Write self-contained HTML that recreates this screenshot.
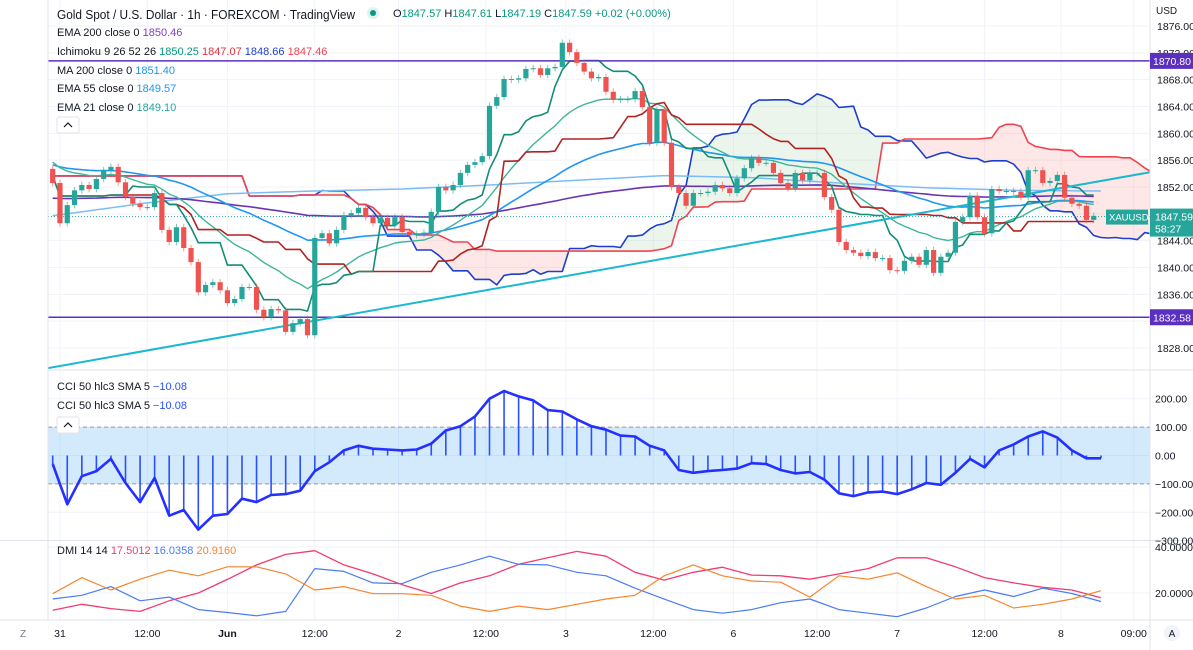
<!DOCTYPE html>
<html><head><meta charset="utf-8">
<style>
html,body{margin:0;padding:0;background:#fff;}
body{width:1193px;height:650px;overflow:hidden;position:relative;font-family:"Liberation Sans",sans-serif;}
svg{position:absolute;left:0;top:0;}
.t{font-family:"Liberation Sans",sans-serif;}
</style></head>
<body>
<svg id="chart" width="1193" height="650" viewBox="0 0 1193 650" xmlns="http://www.w3.org/2000/svg">
  <defs><clipPath id="mainclip"><rect x="48" y="0" width="1102" height="370"/></clipPath>
  <clipPath id="cciclip"><rect x="48" y="371" width="1102" height="169"/></clipPath>
  <clipPath id="dmiclip"><rect x="48" y="541" width="1102" height="79"/></clipPath></defs>
  <g id="grid"></g>
  <g id="main" clip-path="url(#mainclip)"></g>
  <g id="cci" clip-path="url(#cciclip)"></g>
  <g id="dmi" clip-path="url(#dmiclip)"></g>
  <g id="axes"></g>
  <g id="legend"></g>
</svg>
<script>
const closes = [
1852.6,1846.6,1849.3,1851.5,1852.3,1851.7,1853.2,1854.5,1855.0,1852.7,1850.5,1849.5,1849.0,1849.0,1851.1,1845.6,1843.8,1846.0,1842.9,1840.8,1836.3,1837.4,1837.8,1836.6,1834.7,1835.3,1837.1,1837.1,1833.7,1832.6,1833.8,1833.6,1830.4,1831.7,1832.3,1829.9,1844.4,
1845.1,1843.6,1845.6,1847.8,1848.1,1848.9,1847.5,1846.6,1847.4,1846.3,1847.5,1845.3,1844.8,1845.0,1845.2,1848.3,1852.0,1851.5,1852.3,1854.1,1855.3,1855.7,1856.6,1864.1,1865.4,1868.1,1868.0,1868.2,1869.6,1869.7,1868.7,1869.7,1869.9,1873.5,1872.1,1870.5,1869.2,1868.2,1868.4,1866.2,1865.0,1865.1,1865.1,1866.3,1863.9,1858.6,1863.5,1858.6,1852.0,1851.1,1849.2,
1851.1,1851.1,1851.3,1852.3,1851.8,1851.1,1853.3,1854.8,1856.3,1855.6,1855.6,1854.1,1852.6,1851.8,1854.1,1853.0,1854.1,1854.1,1850.5,1848.6,1843.8,1842.6,1842.2,1841.7,1842.3,1841.4,1841.4,1839.6,1839.5,1841.0,1841.6,1840.4,1842.6,1839.2,1841.6,1842.2,1846.8,1847.5,1850.7,1847.5,1845.1,1851.7,1851.4,1851.4,1851.3,1850.5,1854.5,1854.5,1852.6,1852.9,1853.8,1850.4,1849.5,1849.2,1847.1,1847.7];
const firstOpen = 1854.7;
const ma200 = [1847.7,1849.5,1851.0,1851.4,1851.7,1852.3,1853.0,1853.7,1853.4,1852.6,1851.9,1851.5,1851.4];
const cciValues = [-30,-172,-73,-55,-12,-97,-164,-79,-212,-192,-261,-212,-206,-152,-164,-139,-136,-124,-55,-24,18,34,24,21,18,21,42,88,103,137,200,227,208,194,160,155,127,103,91,70,67,34,18,-51,-61,-55,-51,-46,-27,-30,-51,-63,-58,-85,-133,-143,-130,-127,-136,-119,-97,-103,-61,-12,-42,18,39,67,85,63,18,-10,-10];
const adx = [12.5,15.1,13.2,12,16.6,20,25.9,32.2,36.8,38.4,32.2,28.3,23.6,19.8,24.4,27.5,32.5,35.3,38.1,36,29,25.6,29,31.2,27.8,27.5,26,28.3,30.6,35.3,35.3,31.4,26.7,24.4,22.5,21.3,17.9];
const plusDI = [17.4,19,22.8,16.6,18.2,12.8,11.5,10.1,12,30.6,29.4,24.4,24.1,29,32.2,36,32.5,32.2,29,27.5,22.1,17.4,12.8,11.2,12.8,15.8,17.4,12.8,11.2,9.7,13.5,18.5,21.3,18.5,22.1,19.8,16.3];
const minusDI = [19.7,26.7,21.3,26,29.9,27.5,31.4,31.4,28.3,21.3,22.8,19.7,19.7,19,14.3,12,14.3,12.8,15.1,17.4,19,27.5,32.2,27.5,25.2,24.7,18.2,27.5,26,28.8,22.8,17.4,19,13.5,15.1,17.4,21];
const priceTicks = [1876,1872,1868,1864,1860,1856,1852,1848,1844,1840,1836,1832,1828];
const cciTicks = [200,100,0,-100,-200,-300];
const dmiTicks = [40,20];
const timeLabels = ["31","12:00","Jun","12:00","2","12:00","3","12:00","6","12:00","7","12:00","8","09:00"];
const timeIdx = [1,13,24,36,47.5,59.5,70.5,82.5,93.5,105,116,128,138.5,148.5];
const levels = [1870.80,1832.58];
const trendPrices = [1825.0,1854.2];
const lastPrice = 1847.59;

const NS="http://www.w3.org/2000/svg";
function mk(parent,tag,attrs){const e=document.createElementNS(NS,tag);for(const k in attrs)e.setAttribute(k,attrs[k]);parent.appendChild(e);return e;}
const xi=i=>52.7+i*7.28;
const py=p=>26+(1876-p)*6.708;
const cy=v=>455.5-v*0.284;
const dy=v=>547+(40-v)*2.3;
const G=id=>document.getElementById(id);
const grid=G('grid'),main=G('main'),cci=G('cci'),dmi=G('dmi'),axes=G('axes'),legend=G('legend');

timeIdx.forEach((ti,k)=>{const x=xi(ti);const l=mk(grid,'line',{x1:x,x2:x,y1:0,y2:620,stroke:'#f0f3fa','stroke-width':1});

});
priceTicks.forEach(p=>{const l=mk(grid,'line',{x1:48,x2:1150,y1:py(p),y2:py(p),stroke:'#f0f3fa'});

});
cciTicks.forEach(v=>{const l=mk(grid,'line',{x1:48,x2:1150,y1:cy(v),y2:cy(v),stroke:'#f0f3fa'});

});
dmiTicks.forEach(v=>{const l=mk(grid,'line',{x1:48,x2:1150,y1:dy(v),y2:dy(v),stroke:'#f0f3fa'});

});

const N=closes.length;
const opens=closes.map((c,i)=>i?closes[i-1]:firstOpen);
const highs=closes.map((c,i)=>Math.max(c,opens[i])+0.5);
const lows=closes.map((c,i)=>Math.min(c,opens[i])-0.5);
function mid(i,n){let h=-1e9,l=1e9;for(let j=Math.max(0,i-n+1);j<=i;j++){h=Math.max(h,highs[j]);l=Math.min(l,lows[j]);}return (h+l)/2;}
const tenkan=closes.map((c,i)=>mid(i,9));
const kijun=closes.map((c,i)=>mid(i,26));
const spanA=[],spanB=[];
for(let j=0;j<N+26;j++){const s=Math.max(0,Math.min(N-1,j-26));spanA.push((tenkan[s]+kijun[s])/2);spanB.push(mid(s,52));}
function ema(n,seed){const a=2/(n+1);let v=seed;return closes.map(c=>(v=v+a*(c-v)));}
const ema21=ema(21,1856.0),ema55=ema(55,1855.4),ema200=ema(200,1850.3);

function poly(parent,pts,color,w,name){const d=pts.map((p,i)=>(i?'L':'M')+p[0].toFixed(1)+' '+p[1].toFixed(1)).join('');
const e=mk(parent,'path',{d:d,fill:'none',stroke:color,'stroke-width':w,'stroke-linejoin':'round'});

return e;}

for(let j=0;j<spanA.length-1;j++){
 const a0=spanA[j],a1=spanA[j+1],b0=spanB[j],b1=spanB[j+1];
 const col=(a0+a1)>=(b0+b1)?'rgba(67,160,71,0.10)':'rgba(244,67,54,0.12)';
 const e=mk(main,'polygon',{points:`${xi(j)},${py(a0)} ${xi(j+1)},${py(a1)} ${xi(j+1)},${py(b1)} ${xi(j)},${py(b0)}`,fill:col});
 
 
}
poly(main,spanA.map((v,j)=>[xi(j),py(v)]),'#1e3fc9',1.6,'ichimoku-lead-a');
poly(main,spanB.map((v,j)=>[xi(j),py(v)]),'#f0434f',1.6,'ichimoku-lead-b');
poly(main,ma200.map((v,k)=>[xi(k*12),py(v)]),'#7cbcf5',1.5,'ma200-line');
poly(main,ema200.map((v,i)=>[xi(i),py(v)]),'#6a35b5',1.6,'ema200-line');
poly(main,ema55.map((v,i)=>[xi(i),py(v)]),'#2196f3',1.6,'ema55-line');
poly(main,ema21.map((v,i)=>[xi(i),py(v)]),'#3fb59a',1.4,'ema21-line');
poly(main,kijun.map((v,i)=>[xi(i),py(v)]),'#b22222',1.6,'ichimoku-base-line');
poly(main,tenkan.map((v,i)=>[xi(i),py(v)]),'#138d75',1.6,'ichimoku-conversion-line');

levels.forEach(p=>{const l=mk(main,'line',{x1:48,x2:1150,y1:py(p),y2:py(p),stroke:'#5b2fc0','stroke-width':1.6});

});
{const l=mk(main,'line',{x1:48,x2:1150,y1:py(trendPrices[0]),y2:py(trendPrices[1]),stroke:'#1cb8d0','stroke-width':2});

}
{const l=mk(main,'line',{x1:48,x2:1150,y1:py(lastPrice),y2:py(lastPrice),stroke:'#26a69a','stroke-width':1,'stroke-dasharray':'1 2'});

}

for(let i=0;i<N;i++){
 const up=closes[i]>=opens[i];const col=up?'#26a69a':'#ef5350';const x=xi(i);
 const w=mk(main,'line',{x1:x,x2:x,y1:py(highs[i]),y2:py(lows[i]),stroke:col,'stroke-width':1,opacity:0.6});
 
 
 const t=py(Math.max(opens[i],closes[i])),b=py(Math.min(opens[i],closes[i]));
 const r=mk(main,'rect',{x:x-2.6,y:t,width:5.2,height:Math.max(1,b-t),fill:col});
 
 
}

{const r=mk(cci,'rect',{x:48,y:cy(100),width:1102,height:cy(-100)-cy(100),fill:'rgba(33,150,243,0.2)'});

}
[100,-100].forEach(v=>{const l=mk(cci,'line',{x1:48,x2:1150,y1:cy(v),y2:cy(v),stroke:'#9598a1','stroke-dasharray':'4 3'});

});
cciValues.forEach((v,k)=>{const x=xi(k*2);const l=mk(cci,'line',{x1:x,x2:x,y1:cy(0),y2:cy(v),stroke:'#2950ff','stroke-width':1.6});

});
poly(cci,cciValues.map((v,k)=>[xi(k*2),cy(v)]),'#2430ff',2.6,'cci-line');

poly(dmi,adx.map((v,k)=>[xi(k*4),dy(v)]),'#f23b6f',1.3,'dmi-adx-line');
poly(dmi,plusDI.map((v,k)=>[xi(k*4),dy(v)]),'#4a7cf5',1.2,'dmi-plus-di-line');
poly(dmi,minusDI.map((v,k)=>[xi(k*4),dy(v)]),'#f7852d',1.2,'dmi-minus-di-line');

[[48,370,1193,370],[0,540.5,1193,540.5],[0,620,1193,620],[1150,0,1150,650],[48,0,48,620]].forEach(s=>{
 const l=mk(axes,'line',{x1:s[0],y1:s[1],x2:s[2],y2:s[3],stroke:'#e0e3eb','stroke-width':1});
 
 });

function txt(parent,x,y,s,opt){const e=mk(parent,'text',Object.assign({x:x,y:y,'font-size':10.5,fill:'#131722','class':'t'},opt||{}));e.textContent=s;return e;}
priceTicks.forEach(p=>{const e=txt(axes,1157,py(p)+4,p.toFixed(2));

});
cciTicks.forEach(v=>{const e=txt(axes,1155,cy(v)+4,(v<0?'\u2212':'')+Math.abs(v).toFixed(2));

});
dmiTicks.forEach(v=>{const e=txt(axes,1155,dy(v)+4,v.toFixed(4));

});
timeLabels.forEach((s,k)=>{const e=txt(axes,xi(timeIdx[k]),637,s,{'text-anchor':'middle','font-weight':s==='Jun'?'bold':'normal'});

});
levels.forEach(p=>{const r=mk(axes,'rect',{x:1150,y:py(p)-8,width:43,height:16,fill:'#5b2fc0'});


const e=txt(axes,1153,py(p)+4,p.toFixed(2),{fill:'#fff','font-size':10.5});

});
{const y=py(lastPrice);
const r=mk(axes,'rect',{x:1150,y:y-8,width:43,height:28,fill:'#26a69a'});


const e=txt(axes,1155,y+4,lastPrice.toFixed(2),{fill:'#fff'});


const e2=txt(axes,1155,y+16,'58:27',{fill:'#fff'});


const r2=mk(axes,'rect',{x:1106,y:y-7,width:42,height:15,fill:'#26a69a'});


const e3=txt(axes,1109,y+4,'XAUUSD',{fill:'#fff','font-size':9.5});

}
{const e=txt(axes,1156,14,'USD',{'font-size':10});


const z=txt(axes,20,637,'Z',{'font-size':10,fill:'#787b86'});


const c=mk(axes,'circle',{cx:1172,cy:633,r:8,fill:'#f0f3fa'});


const a=txt(axes,1172,637,'A',{'font-size':10,'text-anchor':'middle',fill:'#131722'});

}

function rich(y,parts,name,size){const e=mk(legend,'text',{x:57,y:y,'font-size':size||11,'class':'t',fill:'#131722'});


parts.forEach(p=>{const s=mk(e,'tspan',{fill:p[1]});s.textContent=p[0];});return e;}
{const t=rich(19,[['Gold Spot / U.S. Dollar \u00b7 1h \u00b7 FOREXCOM \u00b7 TradingView','#131722']],'chart-title',13);
t.setAttribute('textLength','298');
t.setAttribute('lengthAdjust','spacingAndGlyphs');}
{const c=mk(legend,'circle',{cx:373,cy:13,r:6,fill:'#dff3ee'});


const c2=mk(legend,'circle',{cx:373,cy:13,r:3,fill:'#089981'});


const o=mk(legend,'text',{x:393,y:17,'font-size':11,'class':'t',fill:'#131722'});


[['O','#131722'],['1847.57 ','#089981'],['H','#131722'],['1847.61 ','#089981'],['L','#131722'],['1847.19 ','#089981'],['C','#131722'],['1847.59 +0.02 (+0.00%)','#089981']].forEach(p=>{const s=mk(o,'tspan',{fill:p[1]});s.textContent=p[0];});}
rich(36,[['EMA 200 close 0  ','#131722'],['1850.46','#7e3fc7']],'ema200-legend');
rich(55,[['Ichimoku 9 26 52 26  ','#131722'],['1850.25 ','#089981'],['1847.07 ','#e0323c'],['1848.66 ','#1e3fc9'],['1847.46','#f0434f']],'ichimoku-legend');
rich(74,[['MA 200 close 0  ','#131722'],['1851.40','#2196f3']],'ma200-legend');
rich(92,[['EMA 55 close 0  ','#131722'],['1849.57','#2196f3']],'ema55-legend');
rich(111,[['EMA 21 close 0  ','#131722'],['1849.10','#26a69a']],'ema21-legend');
rich(390,[['CCI 50 hlc3 SMA 5  ','#131722'],['\u221210.08','#2950ff']],'cci-legend-1');
rich(409,[['CCI 50 hlc3 SMA 5  ','#131722'],['\u221210.08','#2950ff']],'cci-legend-2');
rich(554,[['DMI 14 14  ','#131722'],['17.5012 ','#f23b6f'],['16.0358 ','#4a7cf5'],['20.9160','#f7852d']],'dmi-legend');
[[117],[417]].forEach(p=>{const r=mk(legend,'rect',{x:57,y:p[0],width:22,height:16,rx:2,fill:'#fff',stroke:'#e0e3eb'});


const t=mk(legend,'path',{d:`M64 ${p[0]+10} L68 ${p[0]+6} L72 ${p[0]+10}`,fill:'none',stroke:'#131722','stroke-width':1.2});

});
</script>
</body></html>
